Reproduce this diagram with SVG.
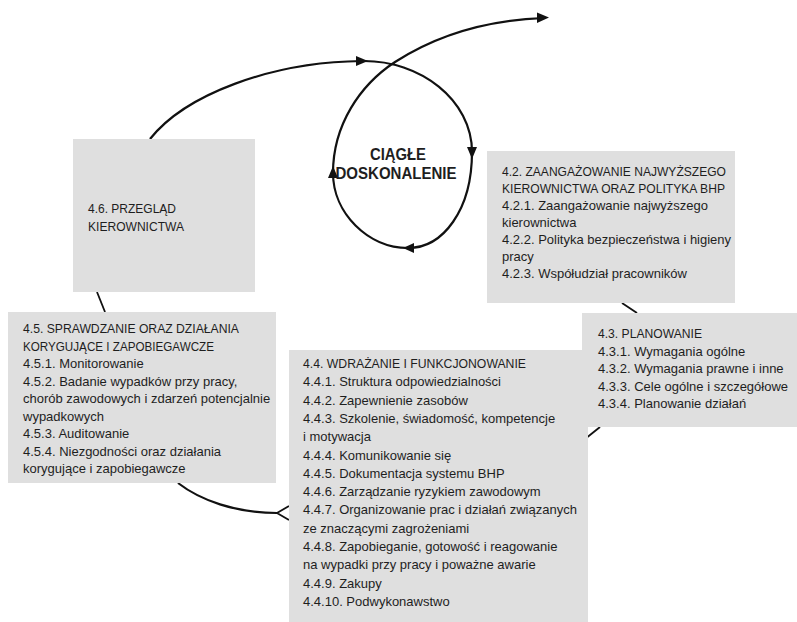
<svg xmlns="http://www.w3.org/2000/svg" width="797" height="622" viewBox="0 0 797 622">
  <style>
    .box { fill: #dfdfdf; stroke: none; }
    .t { font-family: "Liberation Sans", Arial, sans-serif; font-size: 13px; fill: #1e1e1e; }
    .big { font-family: "Liberation Sans", Arial, sans-serif; font-size: 16px; font-weight: bold; fill: #1e1e1e; }
    .ln { fill: none; stroke: #111; stroke-width: 1.8; }
    .cv { fill: none; stroke: #111; stroke-width: 2.2; }
    .ah { fill: #111; stroke: none; }
  </style>
  <rect x="0" y="0" width="797" height="622" fill="#ffffff"/>

  <g id="connectors">
    <path class="cv" d="M150,139 C185,95 270,62 362,61 C420,60 472,100 472,152 C472,210 443,248 408,248 C368,248 333,213 333,173 C333,125 360,85 395,62 C440,33 490,20 544,18"/>
    <polygon class="ah" points="368,61 356,56 356,66"/>
    <polygon class="ah" points="472,159 467,147 477,147"/>
    <polygon class="ah" points="403,248 414,243 414,253"/>
    <polygon class="ah" points="333,166 328,178 338,178"/>
    <polygon class="ah" points="549,17.5 537,12.5 537,23"/>
    <line class="ln" x1="97" y1="292" x2="105" y2="312"/>
    <line class="ln" x1="622" y1="303" x2="637" y2="313"/>
    <line class="ln" x1="600" y1="427" x2="580" y2="443"/>
    <path class="cv" d="M178,483 C200,500 235,513 277,513"/>
    <path class="ln" d="M289,506 L277,513 L289,520"/>
  </g>

  <g id="node-ciagle">
    <text class="big" x="398" y="160" text-anchor="middle" textLength="56" lengthAdjust="spacingAndGlyphs">CIĄGŁE</text>
    <text class="big" x="396" y="179" text-anchor="middle" textLength="121" lengthAdjust="spacingAndGlyphs">DOSKONALENIE</text>
  </g>

  <g id="node-4-6">
    <rect class="box" x="73" y="139" width="182" height="153"/>
    <text class="t" x="88" y="213" textLength="88" lengthAdjust="spacingAndGlyphs">4.6. PRZEGLĄD</text>
    <text class="t" x="88" y="231" textLength="96" lengthAdjust="spacingAndGlyphs">KIEROWNICTWA</text>
  </g>

  <g id="node-4-2">
    <rect class="box" x="487" y="151" width="248" height="152"/>
    <text class="t" x="502" y="176" textLength="224" lengthAdjust="spacingAndGlyphs">4.2. ZAANGAŻOWANIE NAJWYŻSZEGO</text>
    <text class="t" x="502" y="193" textLength="223" lengthAdjust="spacingAndGlyphs">KIEROWNICTWA ORAZ POLITYKA BHP</text>
    <text class="t" x="502" y="210">4.2.1. Zaangażowanie najwyższego</text>
    <text class="t" x="502" y="227">kierownictwa</text>
    <text class="t" x="502" y="244">4.2.2. Polityka bezpieczeństwa i higieny</text>
    <text class="t" x="502" y="261">pracy</text>
    <text class="t" x="502" y="278">4.2.3. Współudział pracowników</text>
  </g>

  <g id="node-4-3">
    <rect class="box" x="582" y="313" width="215" height="114"/>
    <text class="t" x="598" y="338" textLength="104" lengthAdjust="spacingAndGlyphs">4.3. PLANOWANIE</text>
    <text class="t" x="598" y="355.5">4.3.1. Wymagania ogólne</text>
    <text class="t" x="598" y="373">4.3.2. Wymagania prawne i inne</text>
    <text class="t" x="598" y="390.5">4.3.3. Cele ogólne i szczegółowe</text>
    <text class="t" x="598" y="408">4.3.4. Planowanie działań</text>
  </g>

  <g id="node-4-5">
    <rect class="box" x="8" y="312" width="268" height="171"/>
    <text class="t" x="23" y="333" textLength="216" lengthAdjust="spacingAndGlyphs">4.5. SPRAWDZANIE ORAZ DZIAŁANIA</text>
    <text class="t" x="23" y="350.5" textLength="191" lengthAdjust="spacingAndGlyphs">KORYGUJĄCE I ZAPOBIEGAWCZE</text>
    <text class="t" x="23" y="368">4.5.1. Monitorowanie</text>
    <text class="t" x="23" y="385.5">4.5.2. Badanie wypadków przy pracy,</text>
    <text class="t" x="23" y="403">chorób zawodowych i zdarzeń potencjalnie</text>
    <text class="t" x="23" y="420.5">wypadkowych</text>
    <text class="t" x="23" y="438">4.5.3. Auditowanie</text>
    <text class="t" x="23" y="455.5">4.5.4. Niezgodności oraz działania</text>
    <text class="t" x="23" y="473">korygujące i zapobiegawcze</text>
  </g>

  <g id="node-4-4">
    <rect class="box" x="289" y="350" width="299" height="272"/>
    <text class="t" x="303" y="368" textLength="223" lengthAdjust="spacingAndGlyphs">4.4. WDRAŻANIE I FUNKCJONOWANIE</text>
    <text class="t" x="303" y="386.3">4.4.1. Struktura odpowiedzialności</text>
    <text class="t" x="303" y="404.6">4.4.2. Zapewnienie zasobów</text>
    <text class="t" x="303" y="422.9">4.4.3. Szkolenie, świadomość, kompetencje</text>
    <text class="t" x="303" y="441.2">i motywacja</text>
    <text class="t" x="303" y="459.5">4.4.4. Komunikowanie się</text>
    <text class="t" x="303" y="477.8">4.4.5. Dokumentacja systemu BHP</text>
    <text class="t" x="303" y="496.1">4.4.6. Zarządzanie ryzykiem zawodowym</text>
    <text class="t" x="303" y="514.4">4.4.7. Organizowanie prac i działań związanych</text>
    <text class="t" x="303" y="532.7">ze znaczącymi zagrożeniami</text>
    <text class="t" x="303" y="551">4.4.8. Zapobieganie, gotowość i reagowanie</text>
    <text class="t" x="303" y="569.3">na wypadki przy pracy i poważne awarie</text>
    <text class="t" x="303" y="587.6">4.4.9. Zakupy</text>
    <text class="t" x="303" y="605.9">4.4.10. Podwykonawstwo</text>
  </g>
</svg>
